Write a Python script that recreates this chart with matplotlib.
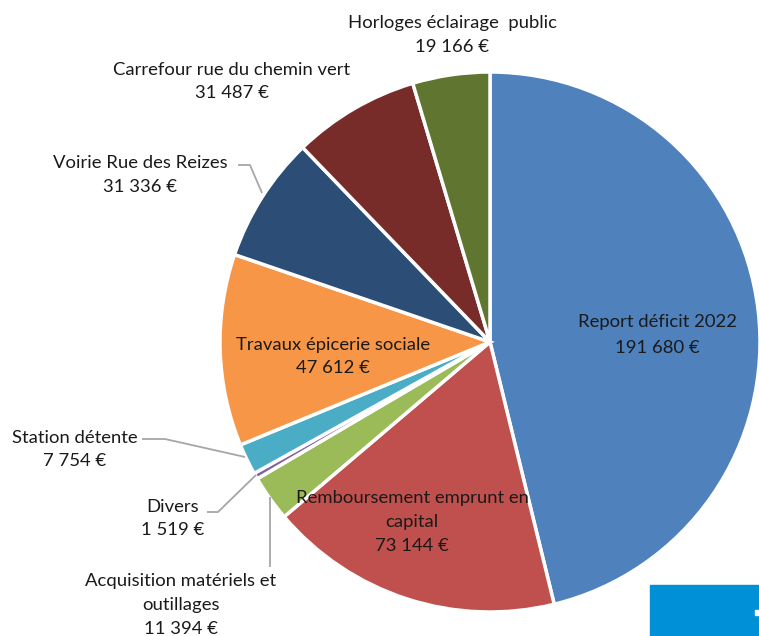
import matplotlib
matplotlib.use("Agg")
import matplotlib.pyplot as plt
from matplotlib.patches import Rectangle

categories = ["Report déficit 2022", "Remboursement emprunt en\ncapital",
              "Acquisition matériels et\noutillages", "Divers", "Station détente",
              "Travaux épicerie sociale", "Voirie Rue des Reizes",
              "Carrefour rue du chemin vert", "Horloges éclairage  public"]
values = [191680, 73144, 11394, 1519, 7754, 47612, 31336, 31487, 19166]
value_labels = ["191 680 €", "73 144 €", "11 394 €", "1 519 €", "7 754 €",
                "47 612 €", "31 336 €", "31 487 €", "19 166 €"]
colors = ["#4F81BD", "#C0504D", "#9BBB59", "#8064A2", "#4BACC6",
          "#F79646", "#2C4D75", "#772C2A", "#5F7530"]

W, H = 759, 636
fig = plt.figure(figsize=(W / 100, H / 100), dpi=100)
ax = fig.add_axes([0, 0, 1, 1])

cx, cy, R = 490, 342, 270
wedges, _ = ax.pie(values, colors=colors, startangle=-90, counterclock=True,
                   center=(cx, cy), radius=R, frame=True,
                   wedgeprops=dict(edgecolor="white", linewidth=2.5))
ax.set_xlim(0, W)
ax.set_ylim(H, 0)
ax.set_aspect("equal")
ax.axis("off")

tc = "#1a1a1a"
fs = 13.3
fam = ["Lato", "DejaVu Sans"]

# label anchor: (x center, y center of first line), line step
pos = {
    0: (657, 322, 26),
    1: (412, 498, 24),
    2: (181, 581, 24),
    3: (173, 507, 23),
    4: (75, 438, 23),
    5: (333, 345, 23),
    6: (140, 163, 24),
    7: (232, 70, 23),
    8: (452, 23, 24),
}
for i, (x, y, step) in pos.items():
    lines = categories[i].split("\n") + [value_labels[i]]
    for k, line in enumerate(lines):
        ax.text(x, y + k * step, line, ha="center", va="center", fontsize=fs,
                color=tc, family=fam)

lc = "#A6A6A6"
leaders = [
    ([238, 250, 262], [165, 165, 193]),
    ([142, 165, 245], [439, 439, 457]),
    ([207, 218, 256], [512, 512, 475]),
    ([270, 270], [497, 567]),
]
for xs, ys in leaders:
    ax.plot(xs, ys, color=lc, lw=1.3, solid_capstyle="butt")

ax.add_patch(Rectangle((650, 585), 110, 52, color="#0090D8", zorder=5))
ax.add_patch(Rectangle((755, 610), 4, 5, color="white", zorder=6))

fig.savefig("out.png", dpi=100)
